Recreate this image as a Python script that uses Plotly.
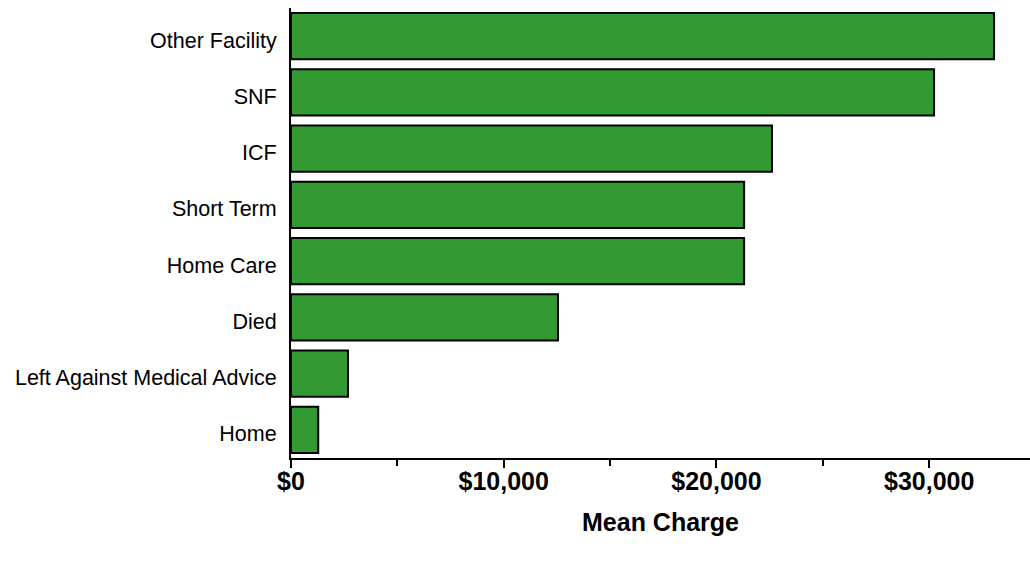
import plotly.graph_objects as go

# Discharge status, listed top to bottom as in the chart
statuses = ['Other Facility', 'SNF', 'ICF', 'Short Term', 'Home Care',
            'Died', 'Left Against Medical Advice', 'Home']
mean_charge = [33050, 30230, 22610, 21300, 21300, 12550, 2680, 1280]

FONT = 'Liberation Sans, Arial, sans-serif'

fig = go.Figure()

fig.add_trace(go.Bar(
    x=mean_charge, y=statuses,
    orientation='h',
    marker=dict(color='#339933', line=dict(color='black', width=2)),
    showlegend=False
))

fig.update_layout(
    width=1030, height=563,
    paper_bgcolor='white', plot_bgcolor='white',
    margin=dict(l=291, r=0, t=8, b=105),
    bargap=0.18,
    font=dict(family=FONT, color='black'),
)

fig.update_xaxes(
    range=[0, 34740],
    showgrid=False, zeroline=False,
    showline=True, linecolor='black', linewidth=2,
    ticks='outside', ticklen=8, tickwidth=2, tickcolor='black',
    dtick=10000, tickprefix='$', tickformat=',',
    tickfont=dict(size=25, family=FONT, weight='bold'),
    ticklabelstandoff=-8,
    minor=dict(dtick=5000, ticks='outside', ticklen=6, tickwidth=2, tickcolor='black', showgrid=False),
    title=dict(text='<b>Mean Charge</b>', font=dict(size=25), standoff=19),
)

fig.update_yaxes(
    autorange='reversed',
    showgrid=False, zeroline=False,
    showline=True, linecolor='black', linewidth=2,
    ticks='', ticklabelstandoff=8, ticklabelshift=-4,
    tickfont=dict(size=21.5),
)

# drop the default body margin so the figure sits at the window's corner
fig.write_html("out.html", config={'displayModeBar': False},
               post_script="document.body.style.margin = '0';")
